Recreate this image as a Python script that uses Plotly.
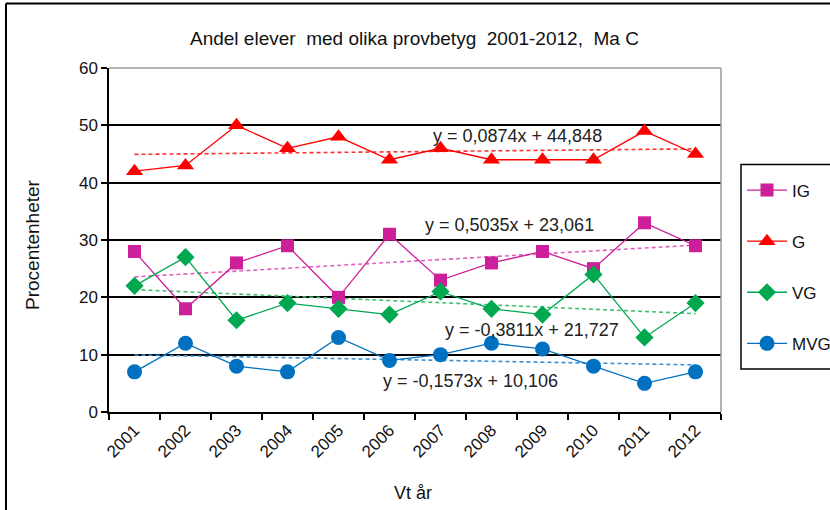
import plotly.graph_objects as go

years = ["2001", "2002", "2003", "2004", "2005", "2006", "2007", "2008", "2009", "2010", "2011", "2012"]
ig = [28, 18, 26, 29, 20, 31, 23, 26, 28, 25, 33, 29]
g = [42, 43, 50, 46, 48, 44, 46, 44, 44, 44, 49, 45]
vg = [22, 27, 16, 19, 18, 17, 21, 18, 17, 24, 13, 19]
mvg = [7, 12, 8, 7, 13, 9, 10, 12, 11, 8, 5, 7]

# trend line coefficients (slope, intercept) as shown in the chart
trend_ig = (0.5035, 23.061)
trend_g = (0.0874, 44.848)
trend_vg = (-0.3811, 21.727)
trend_mvg = (-0.1573, 10.106)

series = [
    ("IG", ig, trend_ig, "#CC1F99", "#E060C0", "square", 13),
    ("G", g, trend_g, "#FF0000", "#FF3030", "triangle-up", 15),
    ("VG", vg, trend_vg, "#00A84F", "#40C070", "diamond", 14),
    ("MVG", mvg, trend_mvg, "#0070C0", "#3A8FD0", "circle", 15),
]

fig = go.Figure()
for name, vals, (k, m), col, tcol, sym, sz in series:
    trend = [k * (i + 1) + m for i in range(len(years))]
    fig.add_trace(go.Scatter(
        x=years, y=trend, mode="lines", showlegend=False, hoverinfo="skip",
        line=dict(color=tcol, width=1.6, dash="4px,3px")))
for name, vals, (k, m), col, tcol, sym, sz in series:
    fig.add_trace(go.Scatter(
        x=years, y=vals, mode="lines+markers", name=name, legendgroup=name,
        line=dict(color=col, width=1.3),
        marker=dict(symbol=sym, size=sz, color=col, line=dict(width=0))))

def eq(k, m):
    s = "y = %.4fx + %.3f" % (k, m)
    return s.replace(".", ",")

annos = [
    (trend_g, 517, 136),
    (trend_ig, 509, 225),
    (trend_vg, 532, 330),
    (trend_mvg, 470, 381),
]
L, R, T, B = 109, 109, 68, 98
W, H = 830, 510
pw, ph = W - L - R, H - T - B
def px(x):
    return (x - L) / pw
def py(y):
    return (H - B - y) / ph

for (k, m), cx, cy in annos:
    fig.add_annotation(x=px(cx), y=py(cy), xref="paper", yref="paper",
                       xanchor="center", yanchor="middle",
                       text=eq(k, m), showarrow=False,
                       font=dict(size=18, color="#222222"))

fig.add_annotation(x=px(414), y=py(38), xref="paper", yref="paper",
                   xanchor="center", yanchor="middle", showarrow=False,
                   text="Andel elever  med olika provbetyg  2001-2012,  Ma C",
                   font=dict(size=19, color="#111111"))

fig.add_annotation(x=px(413), y=py(493), xref="paper", yref="paper",
                   xanchor="center", yanchor="middle", showarrow=False,
                   text="Vt år", font=dict(size=18, color="#111111"))

fig.add_annotation(x=px(32), y=py(245), xref="paper", yref="paper",
                   xanchor="center", yanchor="middle", showarrow=False, textangle=-90,
                   text="Procentenheter", font=dict(size=19, color="#111111"))

shapes = [
    # outer chart border (left and top)
    dict(type="line", xref="paper", yref="paper", x0=px(6), x1=px(840), y0=py(3.5), y1=py(3.5),
         line=dict(color="black", width=2)),
    dict(type="line", xref="paper", yref="paper", x0=px(6), x1=px(6), y0=py(3.5), y1=py(520),
         line=dict(color="black", width=2)),
    # plot area border top/right (gray)
    dict(type="line", xref="paper", yref="paper", x0=0, x1=1, y0=1, y1=1,
         line=dict(color="#9A9A9A", width=1.5), layer="above"),
    dict(type="line", xref="paper", yref="paper", x0=1, x1=1, y0=0, y1=1,
         line=dict(color="#9A9A9A", width=1.5), layer="above"),
    # legend box
    dict(type="rect", xref="paper", yref="paper", x0=px(741), x1=px(845), y0=py(164.5), y1=py(369),
         line=dict(color="black", width=1.5), layer="above"),
]

fig.update_layout(
    width=W, height=H,
    margin=dict(l=L, r=R, t=T, b=B, autoexpand=False),
    paper_bgcolor="white", plot_bgcolor="white",
    font=dict(family="Liberation Sans, Arial, sans-serif", color="#111111"),
    shapes=shapes,
    showlegend=True,
    legend=dict(x=px(742), y=py(172.5), xanchor="left", yanchor="top",
                borderwidth=0, bgcolor="rgba(0,0,0,0)",
                font=dict(size=17), tracegroupgap=26, itemwidth=40,
                traceorder="grouped"),
    xaxis=dict(type="category", tickson="boundaries", ticks="outside", ticklen=6,
               tickcolor="black", tickwidth=1.5, showline=True, linecolor="black", linewidth=1.5,
               showgrid=False, tickangle=-45, tickfont=dict(size=17),
               range=[-0.5, 11.5]),
    yaxis=dict(range=[0, 60], tickvals=[0, 10, 20, 30, 40, 50, 60], ticks="outside", ticklen=6,
               tickcolor="black", tickwidth=1.5, showline=True, linecolor="black", linewidth=1.5,
               showgrid=True, gridcolor="black", gridwidth=1.5, zeroline=False,
               tickfont=dict(size=17)),
)

fig.write_html("out.html", config={"displayModeBar": False},
               post_script="document.body.style.margin='0';document.body.style.overflow='hidden';")
